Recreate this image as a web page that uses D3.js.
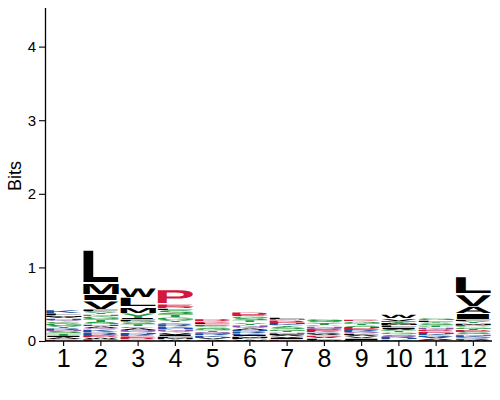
<!DOCTYPE html>
<html><head><meta charset="utf-8">
<script src="https://cdn.jsdelivr.net/npm/d3@7"></script>
<style>html,body{margin:0;padding:0;background:#fff;}svg{display:block;}</style>
</head><body>
<svg id="chart" width="500" height="400"></svg>
<script>
// ---- data (bottom → top within each position; heights in bits) ----
const positions = [1,2,3,4,5,6,7,8,9,10,11,12];
const yTicks = [0,1,2,3,4];
const col1 = [['P',.02],['A',.03],['I',.02],['T',.035],['S',.03],['N',.015],['R',.025],['Y',.03],['G',.045],['C',.015],['Q',.02],['H',.02],['V',.02],['M',.015],['E',.01],['L',.025],['K',.045]];
const col2 = [['P',.03],['W',.02],['D',.015],['E',.02],['R',.04],['K',.035],['Q',.02],['A',.025],['H',.02],['S',.035],['T',.04],['G',.04],['N',.02],['Y',.03],['C',.015],['F',.025],['V',.12],['I',.08],['M',.16],['L',.45]];
const col3 = [['P',.02],['D',.02],['E',.025],['K',.015],['R',.02],['H',.015],['Q',.015],['N',.02],['A',.03],['C',.015],['T',.03],['S',.025],['G',.025],['F',.02],['I',.015],['Y',.07],['M',.08],['L',.13],['W',.135]];
const col4 = [['W',.02],['M',.02],['F',.02],['I',.025],['V',.03],['Q',.02],['N',.025],['H',.02],['K',.025],['R',.03],['C',.015],['Y',.03],['G',.04],['T',.04],['S',.06],['L',.02],['D',.025],['E',.04],['P',.2]];
const col5 = [['A',.02],['V',.02],['H',.015],['K',.02],['R',.02],['N',.015],['Q',.015],['T',.02],['G',.02],['S',.02],['Y',.01],['C',.01],['E',.02],['L',.02],['P',.02],['D',.03]];
const col6 = [['W',.02],['F',.02],['M',.02],['I',.02],['K',.025],['R',.025],['H',.02],['A',.025],['Q',.02],['N',.025],['Y',.03],['T',.03],['S',.03],['G',.025],['E',.02],['D',.04]];
const col7 = [['P',.02],['I',.02],['V',.02],['A',.02],['F',.015],['N',.02],['T',.02],['G',.025],['S',.03],['Y',.02],['K',.02],['H',.015],['E',.015],['D',.025],['M',.01],['L',.02]];
const col8 = [['W',.015],['L',.02],['V',.02],['P',.02],['A',.02],['R',.02],['K',.015],['E',.02],['D',.015],['Q',.015],['N',.02],['C',.01],['T',.02],['Y',.02],['S',.025],['G',.03]];
const col9 = [['F',.015],['I',.02],['V',.025],['A',.02],['L',.02],['Q',.015],['K',.015],['R',.02],['E',.015],['D',.015],['H',.015],['S',.02],['T',.02],['N',.01],['G',.02],['P',.02]];
const col10 = [['K',.02],['H',.015],['R',.02],['Q',.015],['S',.02],['G',.025],['T',.02],['C',.01],['A',.02],['I',.02],['L',.025],['M',.015],['F',.015],['Y',.02],['E',.015],['V',.03],['W',.05]];
const col11 = [['P',.015],['A',.02],['V',.02],['R',.02],['K',.02],['H',.015],['E',.02],['D',.015],['Q',.02],['N',.02],['C',.01],['T',.025],['S',.025],['Y',.015],['L',.02],['G',.03]];
const col12 = [['W',.015],['R',.02],['Q',.015],['K',.02],['N',.02],['S',.025],['E',.015],['D',.015],['T',.02],['G',.025],['C',.01],['P',.02],['M',.02],['Y',.03],['F',.02],['I',.08],['A',.1],['V',.17],['L',.24]];
const columns = [col1,col2,col3,col4,col5,col6,col7,col8,col9,col10,col11,col12];

const colorOf = {};
'AVLIWFM'.split('').forEach(c=>colorOf[c]='#000000');
'GSTYC'.split('').forEach(c=>colorOf[c]='#1f9a3e');
'NQ'.split('').forEach(c=>colorOf[c]='#8a55a8');
'KRH'.split('').forEach(c=>colorOf[c]='#1f4f9f');
'DEP'.split('').forEach(c=>colorOf[c]='#d3173d');

// ---- layout ----
const svg = d3.select('#chart');
const x = d3.scaleBand().domain(positions).range([45, 492]).paddingInner(0.04).paddingOuter(0.02);
const y = d3.scaleLinear().domain([0, 4.53]).range([341, 7.6]);

const FONT = "'Liberation Sans', Arial, Helvetica, sans-serif";
const canvas = document.createElement('canvas');
const ctx = canvas.getContext('2d');
ctx.font = "bold 100px " + FONT;
const metrics = {};
function m(ch){
  if(!metrics[ch]){
    const t = ctx.measureText(ch);
    metrics[ch] = {l:t.actualBoundingBoxLeft, r:t.actualBoundingBoxRight, a:t.actualBoundingBoxAscent, d:t.actualBoundingBoxDescent};
  }
  return metrics[ch];
}

const glyphs = svg.append('g').attr('text-rendering', 'geometricPrecision');
columns.forEach((col, i) => {
  let cum = 0;
  const pos = positions[i];
  const x0 = x(pos), w = x.bandwidth();
  col.forEach(([ch, h]) => {
    const yb = y(cum), yt = y(cum + h);
    cum += h;
    const ph = yb - yt;
    const pad = Math.min(0.9, ph * 0.07);
    const top = yt + pad, H = ph - 2*pad;
    if (H <= 0) return;
    const mm = m(ch);
    const gw = mm.l + mm.r, gh = mm.a + mm.d;
    glyphs.append('text')
      .attr('x', 0).attr('y', 0)
      .attr('transform', `translate(${x0},${top}) scale(${w/gw},${H/gh}) translate(${mm.l},${mm.a})`)
      .attr('font-family', FONT).attr('font-weight', 'bold').attr('font-size', 100)
      .attr('fill', colorOf[ch])
      .text(ch);
  });
});

// ---- axes ----
const xAxis = svg.append('g').attr('transform', 'translate(0,341)')
  .call(d3.axisBottom(x).tickSize(5).tickSizeOuter(0).tickPadding(3));
xAxis.select('.domain').attr('d', 'M45,0H492');
xAxis.selectAll('text').attr('font-size', 25).attr('font-family', FONT).attr('fill', '#000');

const yAxis = svg.append('g').attr('transform', 'translate(45,0)')
  .call(d3.axisLeft(y).tickValues(yTicks).tickFormat(d3.format('d')).tickSize(6).tickSizeOuter(0).tickPadding(3));
yAxis.selectAll('text').attr('font-size', 15).attr('font-family', FONT).attr('fill', '#000');

[xAxis, yAxis].forEach(a => {
  a.select('.domain').attr('stroke', '#000').attr('stroke-width', 1.3);
  a.selectAll('.tick line').attr('stroke', '#000').attr('stroke-width', 1.1);
});

svg.append('text')
  .attr('transform', 'translate(15,176) rotate(-90)')
  .attr('text-anchor', 'middle').attr('dominant-baseline', 'central')
  .attr('font-family', FONT).attr('font-size', 18).attr('fill', '#000')
  .text('Bits');
</script>
</body></html>
